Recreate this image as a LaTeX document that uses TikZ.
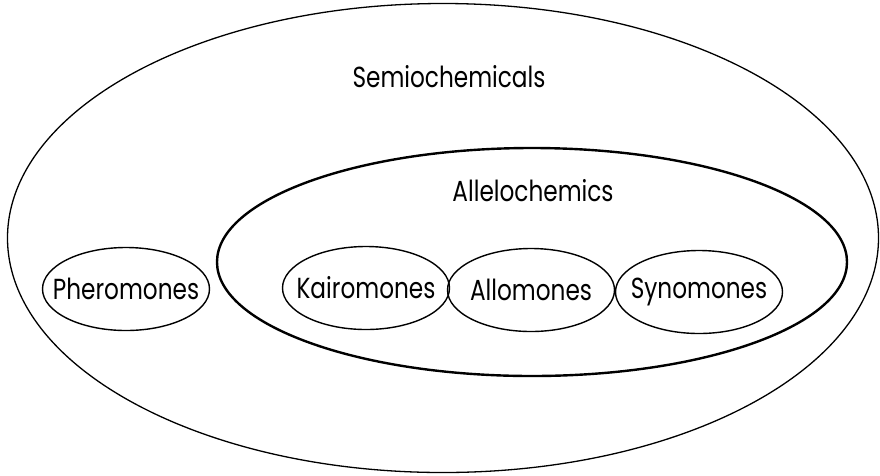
\documentclass[tikz,border=0pt]{standalone}
\usepackage{fontspec}
\setmainfont[FakeStretch=0.8]{Poppins}
\usetikzlibrary{shapes.geometric}
\tikzset{
  bigoval/.style={draw, ellipse, inner sep=0pt, line width=1.3pt},
  midoval/.style={draw, ellipse, inner sep=0pt, line width=2.4pt},
  smalloval/.style={draw, ellipse, inner sep=0pt, line width=1.4pt,
    minimum width=167pt, minimum height=83pt},
  lbl/.style={inner sep=0pt, font=\fontsize{29}{32}\selectfont}
}
\begin{document}
\begin{tikzpicture}[x=1pt, y=-1pt]
\useasboundingbox (0,0) rectangle (880,475);
\node[bigoval, minimum width=871pt, minimum height=469pt] (semi) at (443,238) {};
\node[midoval, minimum width=630pt, minimum height=228pt] (allelo) at (532,262) {};
\node[lbl] (semilbl) at (449,77) {Semiochemicals};
\node[lbl] (allelolbl) at (533,191) {Allelochemics};
\node[smalloval] (phero) at (126,289) {};
\node[smalloval] (kairo) at (366,288) {};
\node[smalloval] (allo) at (531,290) {};
\node[smalloval] (syno) at (699,292) {};
\node[lbl] (pherolbl) at (phero.center) {Pheromones};
\node[lbl] (kairolbl) at (kairo.center) {Kairomones};
\node[lbl] (allolbl) at (allo.center) {Allomones};
\node[lbl] (synolbl) at (syno.center) {Synomones};
\end{tikzpicture}
\end{document}
